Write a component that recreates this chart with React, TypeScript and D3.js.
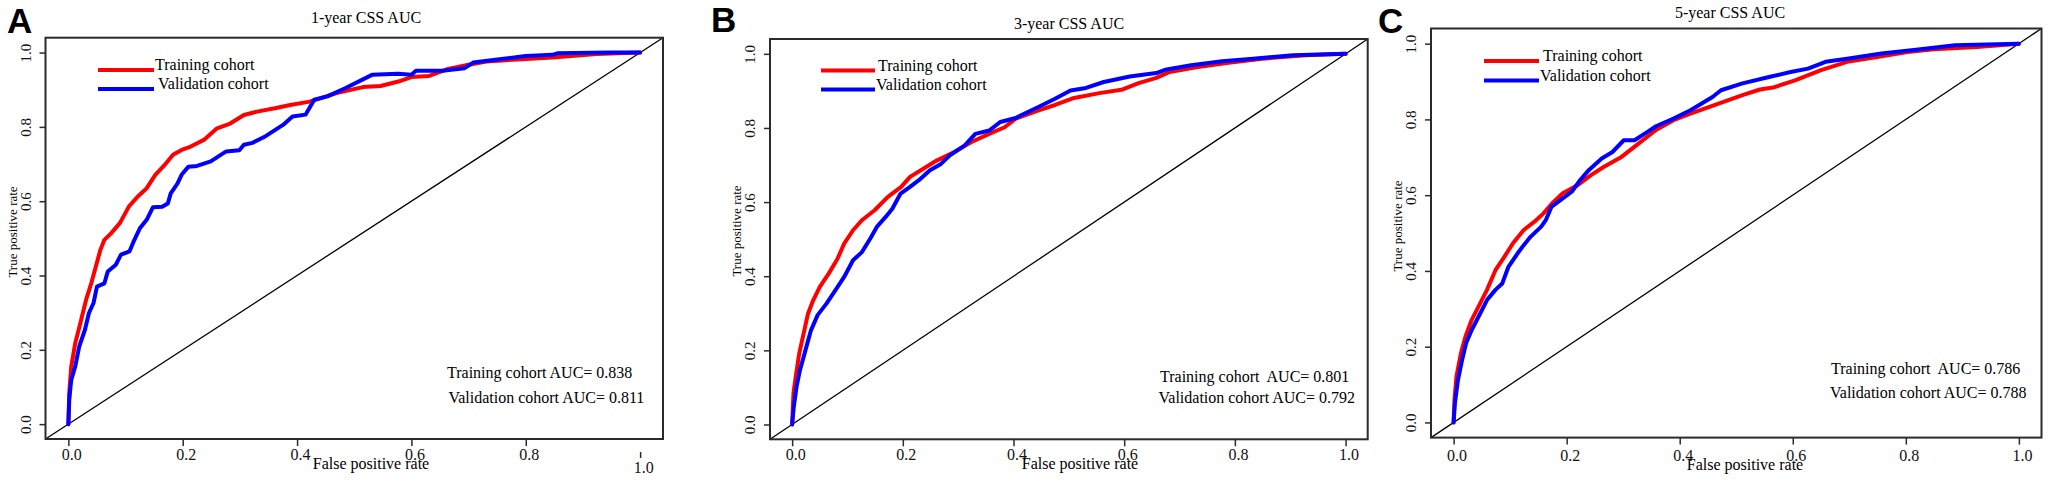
import React, { useEffect, useRef } from 'react'
import { select, scaleLinear, axisBottom, axisLeft, line, format } from 'd3'

type Pt = [number, number]

// ROC points: [false positive rate, true positive rate]
const train1y: Pt[] = [[0,0],[0.0015,0.083],[0.005,0.155],[0.012,0.218],[0.021,0.272],[0.031,0.335],[0.04,0.379],[0.048,0.424],[0.056,0.469],[0.063,0.496],[0.075,0.514],[0.09,0.541],[0.106,0.586],[0.121,0.612],[0.137,0.635],[0.152,0.671],[0.168,0.697],[0.183,0.725],[0.198,0.738],[0.214,0.747],[0.237,0.765],[0.26,0.796],[0.283,0.809],[0.307,0.832],[0.33,0.841],[0.361,0.85],[0.388,0.859],[0.422,0.868],[0.469,0.891],[0.515,0.907],[0.546,0.91],[0.577,0.922],[0.6,0.934],[0.631,0.937],[0.662,0.955],[0.7,0.967],[0.731,0.976],[0.793,0.982],[0.847,0.987],[0.924,0.996],[1,1]]
const valid1y: Pt[] = [[0,0],[0.0015,0.065],[0.005,0.119],[0.012,0.155],[0.019,0.209],[0.029,0.254],[0.036,0.299],[0.044,0.326],[0.05,0.37],[0.063,0.379],[0.069,0.411],[0.083,0.429],[0.092,0.456],[0.107,0.465],[0.114,0.491],[0.125,0.527],[0.137,0.55],[0.148,0.584],[0.164,0.585],[0.174,0.594],[0.179,0.621],[0.191,0.648],[0.198,0.671],[0.21,0.693],[0.225,0.695],[0.249,0.707],[0.276,0.734],[0.299,0.737],[0.307,0.752],[0.322,0.757],[0.345,0.775],[0.376,0.806],[0.392,0.828],[0.415,0.833],[0.43,0.873],[0.453,0.882],[0.484,0.904],[0.531,0.94],[0.577,0.943],[0.6,0.94],[0.608,0.951],[0.654,0.951],[0.693,0.958],[0.708,0.973],[0.754,0.982],[0.8,0.991],[0.847,0.994],[0.855,0.998],[0.947,1],[1,1]]
const train3y: Pt[] = [[0,0],[0.0024,0.084],[0.0064,0.128],[0.0127,0.191],[0.0207,0.245],[0.0286,0.299],[0.038,0.335],[0.05,0.371],[0.066,0.407],[0.082,0.447],[0.094,0.488],[0.11,0.524],[0.126,0.551],[0.149,0.578],[0.173,0.614],[0.197,0.641],[0.213,0.668],[0.237,0.69],[0.261,0.712],[0.293,0.735],[0.324,0.762],[0.356,0.784],[0.384,0.802],[0.404,0.825],[0.444,0.847],[0.475,0.862],[0.507,0.88],[0.555,0.894],[0.595,0.903],[0.626,0.921],[0.658,0.935],[0.682,0.951],[0.73,0.964],[0.785,0.975],[0.849,0.987],[0.928,0.996],[1,1]]
const valid3y: Pt[] = [[0,0],[0.003,0.048],[0.008,0.102],[0.014,0.146],[0.024,0.2],[0.034,0.254],[0.046,0.295],[0.062,0.326],[0.078,0.362],[0.094,0.398],[0.11,0.443],[0.126,0.465],[0.141,0.501],[0.153,0.533],[0.169,0.56],[0.181,0.582],[0.196,0.623],[0.213,0.641],[0.229,0.659],[0.249,0.686],[0.269,0.703],[0.285,0.726],[0.312,0.753],[0.331,0.784],[0.356,0.793],[0.376,0.816],[0.404,0.827],[0.444,0.856],[0.475,0.879],[0.503,0.901],[0.531,0.908],[0.563,0.924],[0.61,0.939],[0.658,0.948],[0.674,0.957],[0.721,0.969],[0.777,0.98],[0.833,0.987],[0.905,0.996],[1,1]]
const train5y: Pt[] = [[0,0],[0.0015,0.06],[0.005,0.121],[0.013,0.183],[0.021,0.227],[0.032,0.271],[0.044,0.306],[0.059,0.35],[0.074,0.402],[0.09,0.438],[0.105,0.473],[0.124,0.508],[0.143,0.53],[0.159,0.552],[0.174,0.578],[0.193,0.605],[0.22,0.627],[0.243,0.653],[0.266,0.675],[0.297,0.701],[0.327,0.736],[0.358,0.772],[0.389,0.798],[0.419,0.815],[0.465,0.84],[0.511,0.864],[0.542,0.879],[0.565,0.884],[0.604,0.903],[0.65,0.93],[0.696,0.952],[0.749,0.965],[0.803,0.978],[0.849,0.985],[0.926,0.991],[1,1]]
const valid5y: Pt[] = [[0,0],[0.0023,0.051],[0.0077,0.112],[0.015,0.165],[0.022,0.209],[0.032,0.244],[0.044,0.279],[0.059,0.323],[0.074,0.35],[0.086,0.367],[0.097,0.411],[0.113,0.446],[0.124,0.468],[0.136,0.49],[0.155,0.517],[0.163,0.534],[0.173,0.569],[0.189,0.587],[0.209,0.609],[0.224,0.64],[0.239,0.666],[0.262,0.697],[0.281,0.714],[0.301,0.745],[0.32,0.745],[0.343,0.767],[0.358,0.782],[0.389,0.802],[0.419,0.824],[0.458,0.859],[0.473,0.877],[0.511,0.895],[0.558,0.912],[0.596,0.925],[0.627,0.934],[0.658,0.952],[0.696,0.96],[0.757,0.974],[0.818,0.984],[0.887,0.996],[1,1]]

const trainCurves = [train1y, train3y, train5y]
const validCurves = [valid1y, valid3y, valid5y]
const panelLetters = ['A', 'B', 'C']
const panelTitles = ['1-year CSS AUC', '3-year CSS AUC', '5-year CSS AUC']
const seriesLabels = ['Training cohort', 'Validation cohort']
const aucTrain = [0.838, 0.801, 0.786]
const aucValid = [0.811, 0.792, 0.788]
const ticks = [0, 0.2, 0.4, 0.6, 0.8, 1.0]

const colors = ['#ff0000', '#0000ff']
const serif = '"Liberation Serif", "Times New Roman", serif'

// where each panel sits on the page
const layouts = [
  { box: [45.5, 37.7, 663, 439], letter: [7, 33], title: [366, 23], legLine: [98, 154], legText: [155, 158], legY: [70, 89],
    aucX: [447, 448.4], aucY: [378, 403], yLab: [17, 232], xLab: [371, 469] },
  { box: [770, 39, 1367.7, 439.3], letter: [711, 32], title: [1069, 29], legLine: [821, 875], legText: [878, 876], legY: [70.5, 89.5],
    aucX: [1160, 1158.5], aucY: [382, 403], yLab: [741, 231], xLab: [1080, 469] },
  { box: [1431, 28.5, 2041.5, 437.6], letter: [1378, 33], title: [1730, 18], legLine: [1484, 1539], legText: [1543, 1540], legY: [61, 80.5],
    aucX: [1831, 1830], aucY: [374, 398], yLab: [1402, 226], xLab: [1745, 470] },
]

const RocPanel = ({ index }: { index: number }) => {
  const gRef = useRef<SVGGElement | null>(null)

  useEffect(() => {
    if (!gRef.current) return
    const g = select(gRef.current)
    g.selectAll('*').remove()
    const L = layouts[index]
    const [x0, y0, x1, y1] = L.box

    const xScale = scaleLinear().domain([-0.04, 1.04]).range([x0, x1])
    const yScale = scaleLinear().domain([-0.04, 1.04]).range([y1, y0])
    const fmt = format('.1f')

    // panel letter + title
    g.append('text')
      .attr('x', L.letter[0]).attr('y', L.letter[1])
      .attr('font-family', '"Liberation Sans", Arial, sans-serif')
      .attr('font-weight', 'bold').attr('font-size', 35)
      .text(panelLetters[index])
    g.append('text')
      .attr('x', L.title[0]).attr('y', L.title[1])
      .attr('text-anchor', 'middle').attr('font-family', serif).attr('font-size', 16)
      .text(panelTitles[index])

    // diagonal reference
    g.append('line')
      .attr('x1', xScale(-0.04)).attr('y1', yScale(-0.04))
      .attr('x2', xScale(1.04)).attr('y2', yScale(1.04))
      .attr('stroke', '#000').attr('stroke-width', 1.3)

    const path = line<Pt>().x(d => xScale(d[0])).y(d => yScale(d[1]))
    ;[trainCurves[index], validCurves[index]].forEach((curve, i) => {
      g.append('path')
        .attr('d', path(curve))
        .attr('fill', 'none')
        .attr('stroke', colors[i])
        .attr('stroke-width', 4)
        .attr('stroke-linejoin', 'round')
        .attr('stroke-linecap', 'round')
    })

    // box
    g.append('rect')
      .attr('x', x0).attr('y', y0).attr('width', x1 - x0).attr('height', y1 - y0)
      .attr('fill', 'none').attr('stroke', '#2b2b2b').attr('stroke-width', 2)

    // y axis
    const yAxis = axisLeft(yScale).tickValues(ticks).tickSize(6).tickFormat(d => fmt(d as number))
    const ya = g.append('g').attr('transform', `translate(${x0}, 0)`).call(yAxis)
    ya.select('.domain').remove()
    ya.selectAll('line').attr('stroke', '#2b2b2b').attr('stroke-width', 1.5)
    ya.selectAll('text')
      .attr('transform', 'rotate(-90)')
      .attr('x', 0).attr('y', -15).attr('dy', null)
      .attr('text-anchor', 'middle')
      .attr('font-family', serif).attr('font-size', 15).attr('fill', '#111')

    // x axis
    const xAxis = axisBottom(xScale).tickValues(ticks).tickSize(7).tickFormat(d => fmt(d as number))
    const xa = g.append('g').attr('transform', `translate(0, ${y1})`).call(xAxis)
    xa.select('.domain').remove()
    xa.selectAll('line').attr('stroke', '#2b2b2b').attr('stroke-width', 1.5)
    xa.selectAll('text')
      .attr('x', 3).attr('y', L.xLab[1] - 9 - y1).attr('dy', null)
      .attr('font-family', serif).attr('font-size', 16).attr('fill', '#111')
    if (index === 0) {
      // the 1.0 tick in panel A sits detached, below the others
      const last = xa.selectAll<SVGGElement, number>('.tick').filter(d => d === 1)
      last.select('line').attr('y1', 13).attr('y2', 19)
      last.select('text').attr('y', 34)
    }

    // axis titles
    g.append('text')
      .attr('transform', `translate(${L.yLab[0]}, ${L.yLab[1]}) rotate(-90)`)
      .attr('text-anchor', 'middle').attr('font-family', serif).attr('font-size', 13)
      .text('True positive rate')
    g.append('text')
      .attr('x', L.xLab[0]).attr('y', L.xLab[1])
      .attr('text-anchor', 'middle').attr('font-family', serif).attr('font-size', 16)
      .text('False positive rate')

    // legend
    seriesLabels.forEach((label, i) => {
      g.append('line')
        .attr('x1', L.legLine[0]).attr('x2', L.legLine[1])
        .attr('y1', L.legY[i]).attr('y2', L.legY[i])
        .attr('stroke', colors[i]).attr('stroke-width', 4)
      g.append('text')
        .attr('x', L.legText[i]).attr('y', L.legY[i])
        .attr('font-family', serif).attr('font-size', 16)
        .text(label)
    })

    // AUC notes
    const aucLines = [
      `Training cohort${index > 0 ? '  ' : ' '}AUC= ${aucTrain[index].toFixed(3)}`,
      `Validation cohort AUC= ${aucValid[index].toFixed(3)}`,
    ]
    aucLines.forEach((t, i) => {
      g.append('text')
        .attr('x', L.aucX[i]).attr('y', L.aucY[i])
        .attr('font-family', serif).attr('font-size', 16)
        .style('white-space', 'pre')
        .text(t)
    })
  }, [index])

  return <g ref={gRef} />
}

export default function App() {
  return (
    <svg
      width={2050}
      height={482}
      style={{ position: 'absolute', left: 0, top: 0, display: 'block', background: '#fff' }}
    >
      <rect width={2050} height={482} fill='#fff' />
      {[0, 1, 2].map(i => <RocPanel key={i} index={i} />)}
    </svg>
  )
}
